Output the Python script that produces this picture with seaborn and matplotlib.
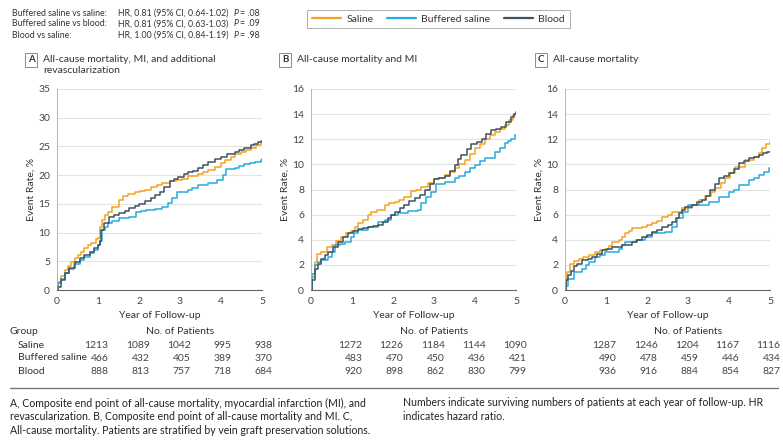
import pandas as pd
import numpy as np
import matplotlib
matplotlib.use("Agg")
import matplotlib.pyplot as plt
import seaborn as sns
from matplotlib import font_manager
from matplotlib.lines import Line2D

# ---- data (cumulative event rate, %) ----
groups = ["Saline", "Buffered saline", "Blood"]
colors = ["#F5A21F", "#27AAE1", "#3D5360"]

# A: all-cause mortality, MI, and additional revascularization
a_saline_t = [0, 0.03, 0.1, 0.19, 0.27, 0.35, 0.43, 0.51, 0.59, 0.67, 0.75, 0.83, 0.95, 1.01, 1.05, 1.1, 1.17, 1.25, 1.35, 1.5, 1.6, 1.74, 1.9, 2.03, 2.15, 2.3, 2.45, 2.55, 2.75, 2.9, 3.04, 3.2, 3.44, 3.55, 3.68, 3.85, 4.0, 4.1, 4.25, 4.35, 4.49, 4.6, 4.73, 4.85, 4.98, 5.0]
a_saline_y = [0, 1.4, 2.4, 3.5, 4.2, 4.9, 5.5, 6.1, 6.6, 7.3, 7.8, 8.2, 8.8, 9.0, 11.0, 12.2, 13.0, 13.6, 14.5, 15.7, 16.3, 16.8, 17.0, 17.2, 17.5, 17.9, 18.3, 18.6, 19.0, 19.2, 19.4, 19.8, 20.2, 20.5, 20.9, 21.5, 22.1, 22.6, 23.2, 23.6, 24.1, 24.4, 24.8, 25.3, 25.9, 26.0]
a_buffered_t = [0, 0.02, 0.1, 0.19, 0.3, 0.41, 0.55, 0.67, 0.8, 0.9, 1.0, 1.05, 1.09, 1.17, 1.25, 1.33, 1.5, 1.76, 1.93, 2.05, 2.17, 2.4, 2.57, 2.7, 2.8, 2.93, 3.2, 3.3, 3.44, 3.68, 3.9, 4.04, 4.12, 4.33, 4.45, 4.57, 4.7, 4.82, 4.98, 5.0]
a_buffered_y = [0, 1.2, 2.0, 2.9, 3.6, 4.6, 5.2, 5.8, 6.4, 7.0, 7.8, 8.6, 10.4, 11.0, 11.6, 12.1, 12.5, 12.7, 13.5, 13.7, 13.9, 14.1, 14.5, 15.1, 16.0, 17.1, 17.4, 17.8, 18.3, 18.7, 19.2, 20.0, 21.0, 21.2, 21.6, 21.9, 22.1, 22.3, 22.7, 22.8]
a_blood_t = [0, 0.02, 0.1, 0.19, 0.3, 0.43, 0.55, 0.67, 0.8, 0.9, 1.0, 1.05, 1.08, 1.15, 1.27, 1.4, 1.52, 1.65, 1.76, 1.9, 2.0, 2.15, 2.3, 2.4, 2.5, 2.62, 2.75, 2.85, 2.95, 3.1, 3.2, 3.32, 3.44, 3.56, 3.68, 3.85, 4.0, 4.15, 4.33, 4.45, 4.57, 4.73, 4.8, 4.9, 5.0]
a_blood_y = [0, 0.6, 1.8, 2.9, 3.8, 4.9, 5.5, 6.1, 6.7, 7.3, 7.8, 8.5, 10.4, 11.6, 12.7, 13.0, 13.4, 13.8, 14.2, 14.6, 15.0, 15.5, 16.0, 16.5, 17.1, 18.0, 18.9, 19.3, 19.7, 20.2, 20.5, 20.8, 21.2, 21.7, 22.3, 22.8, 23.2, 23.6, 24.1, 24.4, 24.7, 25.2, 25.5, 25.8, 26.0]

# B: all-cause mortality and MI
b_saline_t = [0, 0.03, 0.09, 0.15, 0.25, 0.4, 0.5, 0.62, 0.74, 0.86, 0.98, 1.08, 1.15, 1.27, 1.39, 1.47, 1.6, 1.8, 1.9, 2.04, 2.15, 2.28, 2.45, 2.55, 2.69, 2.85, 3.0, 3.1, 3.26, 3.38, 3.5, 3.62, 3.75, 3.88, 4.0, 4.12, 4.24, 4.36, 4.48, 4.6, 4.72, 4.82, 4.93, 5.0]
b_saline_y = [0, 1.0, 2.25, 2.9, 3.05, 3.4, 3.6, 3.9, 4.25, 4.5, 4.7, 5.0, 5.3, 5.6, 5.97, 6.2, 6.4, 6.8, 6.9, 7.04, 7.2, 7.4, 7.9, 8.0, 8.2, 8.5, 8.8, 8.9, 9.16, 9.4, 9.7, 10.0, 10.35, 10.8, 11.3, 11.6, 12.05, 12.3, 12.6, 12.8, 13.1, 13.5, 13.9, 14.2]
b_buffered_t = [0, 0.02, 0.09, 0.17, 0.25, 0.41, 0.5, 0.58, 0.7, 0.82, 0.98, 1.06, 1.15, 1.39, 1.63, 1.8, 1.96, 2.12, 2.36, 2.61, 2.69, 2.81, 2.93, 3.05, 3.26, 3.5, 3.62, 3.75, 3.88, 4.0, 4.12, 4.24, 4.48, 4.6, 4.72, 4.8, 4.88, 4.97, 5.0]
b_buffered_y = [0, 1.3, 2.0, 2.2, 2.4, 2.65, 3.0, 3.6, 3.7, 3.85, 4.25, 4.5, 4.78, 5.04, 5.4, 5.55, 5.97, 6.1, 6.25, 6.4, 6.9, 7.4, 7.8, 8.4, 8.6, 8.9, 9.1, 9.4, 9.7, 9.95, 10.3, 10.5, 11.0, 11.3, 11.7, 11.9, 12.05, 12.3, 12.3]
b_blood_t = [0, 0.02, 0.09, 0.17, 0.25, 0.33, 0.41, 0.53, 0.66, 0.78, 0.9, 1.02, 1.15, 1.27, 1.39, 1.5, 1.63, 1.76, 1.88, 1.96, 2.04, 2.16, 2.28, 2.4, 2.53, 2.65, 2.77, 2.9, 3.0, 3.13, 3.26, 3.38, 3.5, 3.58, 3.67, 3.8, 3.91, 4.04, 4.16, 4.28, 4.4, 4.52, 4.64, 4.76, 4.88, 4.95, 5.0]
b_blood_y = [0, 0.8, 1.7, 2.1, 2.5, 2.8, 3.05, 3.4, 3.85, 4.2, 4.5, 4.7, 4.85, 4.95, 5.04, 5.1, 5.2, 5.45, 5.7, 5.95, 6.2, 6.5, 6.8, 7.05, 7.3, 7.6, 7.96, 8.4, 8.8, 8.95, 9.1, 9.5, 9.95, 10.4, 10.75, 11.2, 11.6, 11.8, 12.05, 12.4, 12.7, 12.85, 13.0, 13.4, 13.8, 14.0, 14.2]

# C: all-cause mortality
c_saline_t = [0, 0.02, 0.05, 0.13, 0.22, 0.33, 0.45, 0.58, 0.74, 0.86, 0.98, 1.08, 1.15, 1.31, 1.4, 1.47, 1.55, 1.63, 1.88, 2.0, 2.12, 2.25, 2.36, 2.5, 2.61, 2.85, 3.1, 3.26, 3.42, 3.55, 3.67, 3.8, 3.91, 4.03, 4.15, 4.4, 4.6, 4.72, 4.8, 4.9, 5.0]
c_saline_y = [0, 0.8, 1.46, 2.1, 2.3, 2.5, 2.6, 2.8, 3.05, 3.15, 3.3, 3.5, 3.85, 4.0, 4.2, 4.5, 4.7, 4.9, 5.0, 5.15, 5.3, 5.5, 5.8, 6.0, 6.2, 6.5, 6.77, 7.2, 7.5, 7.8, 8.1, 8.5, 8.9, 9.3, 9.8, 10.35, 10.6, 10.9, 11.3, 11.6, 11.8]
c_buffered_t = [0, 0.02, 0.08, 0.22, 0.41, 0.5, 0.58, 0.74, 0.86, 0.98, 1.31, 1.4, 1.47, 1.72, 1.96, 2.12, 2.45, 2.61, 2.73, 2.89, 3.0, 3.26, 3.5, 3.75, 4.0, 4.12, 4.24, 4.48, 4.6, 4.72, 4.85, 4.97, 5.0]
c_buffered_y = [0, 0.3, 0.9, 1.46, 1.7, 2.0, 2.25, 2.65, 2.8, 3.05, 3.3, 3.6, 3.85, 4.0, 4.25, 4.5, 4.65, 5.05, 5.7, 6.2, 6.77, 6.77, 7.0, 7.4, 7.8, 8.0, 8.35, 8.75, 8.9, 9.15, 9.4, 9.7, 9.7]
c_blood_t = [0, 0.02, 0.08, 0.15, 0.22, 0.3, 0.41, 0.55, 0.66, 0.78, 0.9, 1.02, 1.15, 1.39, 1.63, 1.76, 1.88, 2.0, 2.12, 2.24, 2.36, 2.5, 2.61, 2.7, 2.77, 2.85, 2.93, 3.1, 3.22, 3.34, 3.45, 3.54, 3.65, 3.75, 3.88, 4.0, 4.12, 4.24, 4.36, 4.48, 4.6, 4.72, 4.82, 4.93, 5.0]
c_blood_y = [0, 0.8, 1.2, 1.5, 1.9, 2.1, 2.4, 2.5, 2.65, 2.9, 3.2, 3.3, 3.4, 3.6, 3.85, 4.0, 4.25, 4.4, 4.65, 4.8, 5.05, 5.2, 5.4, 5.7, 6.1, 6.4, 6.6, 6.77, 7.0, 7.2, 7.5, 7.95, 8.4, 8.9, 9.1, 9.3, 9.6, 10.1, 10.3, 10.5, 10.6, 10.75, 10.9, 11.0, 11.0]

# numbers at risk, years 1-5
a_at_risk = {"Saline": [1213, 1089, 1042, 995, 938], "Buffered saline": [466, 432, 405, 389, 370], "Blood": [888, 813, 757, 718, 684]}
b_at_risk = {"Saline": [1272, 1226, 1184, 1144, 1090], "Buffered saline": [483, 470, 450, 436, 421], "Blood": [920, 898, 862, 830, 799]}
c_at_risk = {"Saline": [1287, 1246, 1204, 1167, 1116], "Buffered saline": [490, 478, 459, 446, 434], "Blood": [936, 916, 884, 854, 827]}

hr_labels = ["Buffered saline vs saline:", "Buffered saline vs blood:", "Blood vs saline:"]
hr_values = ["HR, 0.81 (95% CI, 0.64-1.02)", "HR, 0.81 (95% CI, 0.63-1.03)", "HR, 1.00 (95% CI, 0.84-1.19)"]
hr_p = ["= .08", "= .09", "= .98"]

caption_left = ["A, Composite end point of all-cause mortality, myocardial infarction (MI), and",
                "revascularization. B, Composite end point of all-cause mortality and MI. C,",
                "All-cause mortality. Patients are stratified by vein graft preservation solutions."]
caption_right = ["Numbers indicate surviving numbers of patients at each year of follow-up. HR",
                 "indicates hazard ratio."]

panels = [
    ("A", "All-cause mortality, MI, and additional\nrevascularization",
     [(a_saline_t, a_saline_y), (a_buffered_t, a_buffered_y), (a_blood_t, a_blood_y)], 35, 5, a_at_risk),
    ("B", "All-cause mortality and MI",
     [(b_saline_t, b_saline_y), (b_buffered_t, b_buffered_y), (b_blood_t, b_blood_y)], 16, 2, b_at_risk),
    ("C", "All-cause mortality",
     [(c_saline_t, c_saline_y), (c_buffered_t, c_buffered_y), (c_blood_t, c_blood_y)], 16, 2, c_at_risk),
]

# ---- style ----
sns.set_style("white")
installed = {f.name for f in font_manager.fontManager.ttflist}
font = "Liberation Sans Narrow" if "Liberation Sans Narrow" in installed else "Lato"
plt.rcParams["font.family"] = [font, "DejaVu Sans"]
text_col = "#333333"

W, H = 783, 445
fig = plt.figure(figsize=(W / 100, H / 100), dpi=100)


def fx(x):
    return x / W


def fy(y):
    return 1 - y / H


# hazard ratios at the top left
for i, (lab, val, p) in enumerate(zip(hr_labels, hr_values, hr_p)):
    y = fy(13 + 11 * i)
    fig.text(fx(12), y, lab, fontsize=6.3, color=text_col, va="center")
    fig.text(fx(118), y, val, fontsize=6.3, color=text_col, va="center")
    fig.text(fx(234), y, "P", fontsize=6.3, color=text_col, va="center", style="italic")
    fig.text(fx(239.5), y, p, fontsize=6.3, color=text_col, va="center")

axes_left = [57, 311, 565]
box_x = [31, 285, 541]
for k, (letter, title, curves, ymax, ystep, at_risk) in enumerate(panels):
    left = axes_left[k]
    ax = fig.add_axes([fx(left), fy(290), 205 / W, 201 / H])

    frames = []
    for g, (t, v) in zip(groups, curves):
        frames.append(pd.DataFrame({"year": t, "rate": v, "group": g}))
    df = pd.concat(frames, ignore_index=True)
    sns.lineplot(data=df, x="year", y="rate", hue="group", hue_order=groups,
                 palette=colors, estimator=None, sort=False, drawstyle="steps-post",
                 linewidth=1.1, ax=ax, legend=(k == 0))

    ax.set_xlim(0, 5)
    ax.set_ylim(0, ymax)
    ax.set_xticks(range(6))
    ax.set_yticks(np.arange(0, ymax + 0.1, ystep))
    ax.grid(axis="y", color="#e3e3e3", linewidth=0.8)
    ax.grid(axis="x", visible=False)
    ax.set_axisbelow(True)
    for s in ["top", "right"]:
        ax.spines[s].set_visible(False)
    ax.spines["left"].set_color("#aaaaaa")
    ax.spines["left"].set_linewidth(0.6)
    ax.spines["bottom"].set_color("#666666")
    ax.spines["bottom"].set_linewidth(0.8)
    ax.tick_params(axis="both", labelsize=7.5, colors="#444444", length=3, width=0.6, pad=2)
    ax.set_xlabel("Year of Follow-up", fontsize=7.5, color=text_col)
    ax.set_ylabel("Event Rate, %", fontsize=7.5, color=text_col)
    ax.xaxis.set_label_coords(0.5, -0.125)
    ax.xaxis.label.set_va("center")
    ax.yaxis.set_label_coords(-0.125, 0.5)
    ax.yaxis.label.set_va("center")

    if k == 0:
        handles, labels = ax.get_legend_handles_labels()
        ax.get_legend().remove()
        leg = fig.legend(handles, labels, loc="center", bbox_to_anchor=(fx(438.5), fy(19)),
                         ncol=3, frameon=True, fancybox=False, fontsize=7.5,
                         handlelength=2.8, handletextpad=0.5, columnspacing=1.3,
                         borderpad=0.45, edgecolor="#999999")
        leg.get_frame().set_linewidth(0.7)
        for line in leg.get_lines():
            line.set_linewidth(1.6)
        for txt in leg.get_texts():
            txt.set_color(text_col)

    # panel letter and title
    fig.text(fx(box_x[k]), fy(60), letter, fontsize=7, fontweight="bold", color=text_col,
             ha="center", va="center",
             bbox=dict(boxstyle="square,pad=0.3", fc="white", ec="#777777", lw=0.6))
    fig.text(fx(box_x[k] + 12), fy(55), title, fontsize=7.5, color=text_col,
             ha="left", va="top", linespacing=1.25)

    # numbers at risk
    tr = ax.get_xaxis_transform()
    ax.text(3, (290 - 332) / 201, "No. of Patients", transform=tr, fontsize=7.5,
            color=text_col, ha="center", va="center", clip_on=False)
    for r, g in enumerate(groups):
        yy = (290 - (345 + 13 * r)) / 201
        for yr, n in enumerate(at_risk[g], start=1):
            ax.text(yr + 0.26, yy, str(n), transform=tr, fontsize=7.5, color="#444444",
                    ha="right", va="center", clip_on=False)

# table row labels
fig.text(fx(10), fy(332), "Group", fontsize=7.5, color=text_col, va="center")
for r, g in enumerate(groups):
    fig.text(fx(18), fy(345 + 13 * r), g, fontsize=7.5, color=text_col, va="center")

# separator and caption
fig.add_artist(Line2D([fx(10), fx(778)], [fy(388), fy(388)], color="#777777", linewidth=1.0))
for i, line in enumerate(caption_left):
    fig.text(fx(10), fy(403 + 14 * i), line, fontsize=7.6, color="#222222", va="center")
for i, line in enumerate(caption_right):
    fig.text(fx(403), fy(403 + 14 * i), line, fontsize=7.6, color="#222222", va="center")

fig.savefig("out.png", dpi=100)
